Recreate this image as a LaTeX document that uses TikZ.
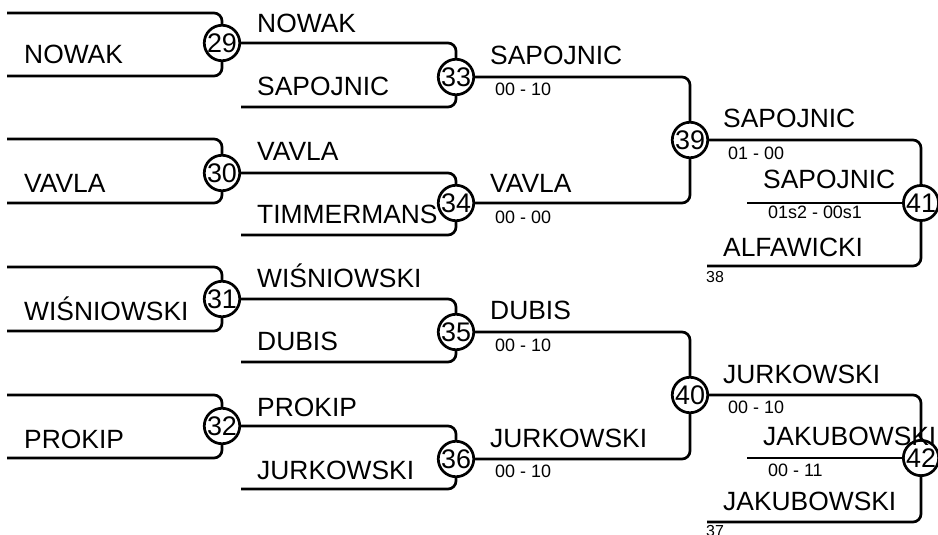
\documentclass[tikz,border=0pt]{standalone}
\usepackage{fontspec}
\setmainfont{Liberation Sans}
\begin{document}
\begin{tikzpicture}[x=1bp,y=-1bp,
  br/.style={rounded corners=8bp, line width=2.7bp},
  num/.style={circle, draw, line width=2.7bp, fill=white, minimum size=34bp, inner sep=0pt, font=\fontsize{27}{27}\selectfont},
  nm/.style={anchor=base west, inner sep=0pt, font=\fontsize{26.5}{26.5}\selectfont},
  sc/.style={anchor=west, inner sep=0pt, font=\fontsize{18}{18}\selectfont},
  lo/.style={anchor=west, inner sep=0pt, font=\fontsize{16}{16}\selectfont}]
\useasboundingbox (0,0) rectangle (938,535);

% match circles
\node[num] (c29) at (222,43) {29};
\node[num] (c30) at (222,173) {30};
\node[num] (c31) at (222,299) {31};
\node[num] (c32) at (222,426) {32};
\node[num] (c33) at (456,77) {33};
\node[num] (c34) at (456,203) {34};
\node[num] (c35) at (456,332) {35};
\node[num] (c36) at (456,459) {36};
\node[num] (c39) at (690,140) {39};
\node[num] (c40) at (690,395) {40};
\node[num] (c41) at (921,203) {41};
\node[num] (c42) at (921,458) {42};

% free line ends
\coordinate (a29) at (7,13);  \coordinate (b29) at (7,76);
\coordinate (a30) at (7,139); \coordinate (b30) at (7,203);
\coordinate (a31) at (7,267); \coordinate (b31) at (7,331);
\coordinate (a32) at (7,395); \coordinate (b32) at (7,458);
\coordinate (b33) at (241,107);
\coordinate (b34) at (241,235);
\coordinate (b35) at (241,362);
\coordinate (b36) at (241,489);
\coordinate (m41) at (747,203); \coordinate (b41) at (707,266);
\coordinate (m42) at (747,458); \coordinate (b42) at (707,522);

% round 1
\draw[br] (a29) -| (c29.north); \draw[br] (b29) -| (c29.south);
\draw[br] (a30) -| (c30.north); \draw[br] (b30) -| (c30.south);
\draw[br] (a31) -| (c31.north); \draw[br] (b31) -| (c31.south);
\draw[br] (a32) -| (c32.north); \draw[br] (b32) -| (c32.south);
% round 2
\draw[br] (c29.east) -| (c33.north); \draw[br] (b33) -| (c33.south);
\draw[br] (c30.east) -| (c34.north); \draw[br] (b34) -| (c34.south);
\draw[br] (c31.east) -| (c35.north); \draw[br] (b35) -| (c35.south);
\draw[br] (c32.east) -| (c36.north); \draw[br] (b36) -| (c36.south);
% round 3
\draw[br] (c33.east) -| (c39.north); \draw[br] (c34.east) -| (c39.south);
\draw[br] (c35.east) -| (c40.north); \draw[br] (c36.east) -| (c40.south);
% round 4
\draw[br] (c39.east) -| (c41.north); \draw[br] (m41) -- (c41.west); \draw[br] (b41) -| (c41.south);
\draw[br] (c40.east) -| (c42.north); \draw[br] (m42) -- (c42.west); \draw[br] (b42) -| (c42.south);

% names round 1
\node[nm] (n1) at (24,64) {NOWAK};
\node[nm] (n2) at (24,193) {VAVLA};
\node[nm] (n3) at (24,321) {WIŚNIOWSKI};
\node[nm] (n4) at (24,448) {PROKIP};
% names round 2
\node[nm] (n5) at (257,33) {NOWAK};
\node[nm] (n6) at (257,96) {SAPOJNIC};
\node[nm] (n7) at (257,161) {VAVLA};
\node[nm] (n8) at (257,224) {TIMMERMANS};
\node[nm] (n9) at (257,288) {WIŚNIOWSKI};
\node[nm] (n10) at (257,351) {DUBIS};
\node[nm] (n11) at (257,416) {PROKIP};
\node[nm] (n12) at (257,479) {JURKOWSKI};
% round 3
\node[nm] (n13) at (490,65) {SAPOJNIC};
\node[sc] (s13) at (495,89) {00 - 10};
\node[nm] (n14) at (490,193) {VAVLA};
\node[sc] (s14) at (495,217) {00 - 00};
\node[nm] (n15) at (490,320) {DUBIS};
\node[sc] (s15) at (495,345) {00 - 10};
\node[nm] (n16) at (490,447) {JURKOWSKI};
\node[sc] (s16) at (495,471) {00 - 10};
% round 4
\node[nm] (n17) at (723,128) {SAPOJNIC};
\node[sc] (s17) at (728,153) {01 - 00};
\node[nm] (n18) at (763,189) {SAPOJNIC};
\node[sc] (s18) at (768,212) {01s2 - 00s1};
\node[nm] (n19) at (723,257) {ALFAWICKI};
\node[lo] (l38) at (706,277) {38};
\node[nm] (n20) at (723,383) {JURKOWSKI};
\node[sc] (s20) at (728,407) {00 - 10};
\node[nm] (n21) at (763,445) {JAKUBOWSKI};
\node[sc] (s21) at (768,470) {00 - 11};
\node[nm] (n22) at (723,510) {JAKUBOWSKI};
\node[lo] (l37) at (706,531) {37};
\end{tikzpicture}
\end{document}
